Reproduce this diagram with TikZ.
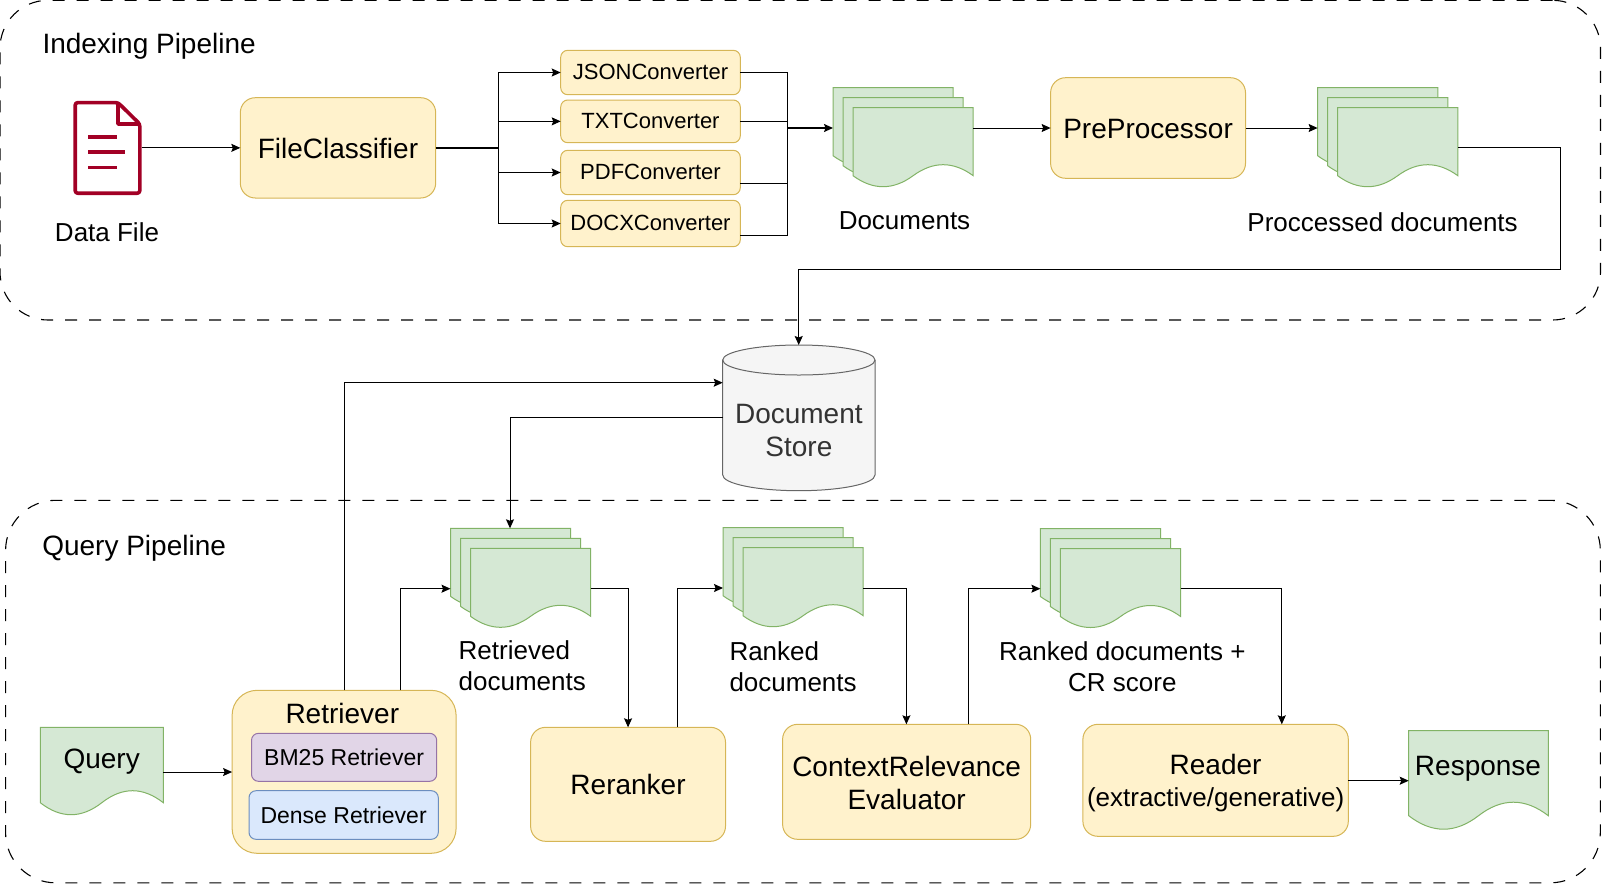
\documentclass[tikz,border=0pt]{standalone}
\usepackage{fontspec}
\setmainfont{Liberation Sans}
\usetikzlibrary{arrows.meta}
\definecolor{ybg}{HTML}{FFF2CC}\definecolor{ybd}{HTML}{D6B656}
\definecolor{gbg}{HTML}{D5E8D4}\definecolor{gbd}{HTML}{82B366}
\definecolor{pbg}{HTML}{E1D5E7}\definecolor{pbd}{HTML}{9673A6}
\definecolor{bbg}{HTML}{DAE8FC}\definecolor{bbd}{HTML}{6C8EBF}
\definecolor{cbg}{HTML}{F5F5F5}\definecolor{cbd}{HTML}{666666}
\definecolor{ired}{HTML}{A20025}
\tikzset{
  fbig/.style={font=\fontsize{28pt}{33.5pt}\selectfont},
  fmid/.style={font=\fontsize{26pt}{30pt}\selectfont},
  fsm/.style={font=\fontsize{22pt}{28pt}\selectfont},
  fsmb/.style={font=\fontsize{23pt}{28pt}\selectfont},
  frame/.style={draw=black,line width=1.1pt,dash pattern=on 12pt off 12pt},
  ybox/.style={draw=ybd,fill=ybg,line width=1pt,rounded corners=15pt},
  smallbox/.style={draw=ybd,fill=ybg,line width=1pt,rounded corners=7pt},
  pbox/.style={draw=pbd,fill=pbg,line width=1pt,rounded corners=7pt},
  bbox/.style={draw=bbd,fill=bbg,line width=1pt,rounded corners=7pt},
  sheet/.style={draw=gbd,fill=gbg,line width=1pt},
  lbl/.style={anchor=base,inner sep=0pt,outer sep=0pt,align=center},
  conn/.style={draw=black,line width=1pt},
  arr/.style={conn,-{Stealth[length=9pt,width=8pt,inset=1.5pt]}},
}
% box: style, name, x1, y1, x2, y2, text
\newcommand{\bx}[7]{%
  \pgfmathsetmacro{\bxw}{#5-#3}\pgfmathsetmacro{\bxh}{#6-#4}%
  \pgfmathsetmacro{\bxx}{(#3+#5)/2}\pgfmathsetmacro{\bxy}{(#4+#6)/2}%
  \node[#1,minimum width=\bxw pt,minimum height=\bxh pt,inner sep=0pt,outer sep=0pt,align=center] (#2) at (\bxx,\bxy) {#7};}
% wavy sheet: x1, y1, x2, yr, amp
\newcommand{\sheetshape}[5]{%
  \pgfmathsetmacro{\sw}{#3-#1}%
  \pgfmathsetmacro{\sa}{#3-\sw/6}\pgfmathsetmacro{\sb}{#3-\sw/3}%
  \pgfmathsetmacro{\sc}{#1+\sw/3}\pgfmathsetmacro{\sd}{#1+\sw/6}%
  \pgfmathsetmacro{\sm}{(#1+#3)/2}%
  \pgfmathsetmacro{\su}{#4-(#5)*4/3}\pgfmathsetmacro{\sl}{#4+(#5)*4/3}%
  \path[sheet] (#1,#2) -- (#3,#2) -- (#3,#4)
    .. controls (\sa,\su) and (\sb,\su) .. (\sm,#4)
    .. controls (\sc,\sl) and (\sd,\sl) .. (#1,#4) -- cycle;}
% stack of three sheets: name, back x, back y
\newcommand{\stack}[3]{%
  \pgfmathsetmacro{\xaa}{#2}\pgfmathsetmacro{\yaa}{#3}%
  \pgfmathsetmacro{\xbb}{#2+10}\pgfmathsetmacro{\ybb}{#3+10}%
  \pgfmathsetmacro{\xcc}{#2+20}\pgfmathsetmacro{\ycc}{#3+20}%
  \pgfmathsetmacro{\xAA}{#2+120.2}\pgfmathsetmacro{\xBB}{#2+130.2}\pgfmathsetmacro{\xCC}{#2+140.2}%
  \pgfmathsetmacro{\rAA}{#3+68}\pgfmathsetmacro{\rBB}{#3+78}\pgfmathsetmacro{\rCC}{#3+88}%
  \sheetshape{\xaa}{\yaa}{\xAA}{\rAA}{11}%
  \sheetshape{\xbb}{\ybb}{\xBB}{\rBB}{11}%
  \sheetshape{\xcc}{\ycc}{\xCC}{\rCC}{11}%
  \pgfmathsetmacro{\yd}{#3+99}%
  \bx{}{#1}{\xaa}{\yaa}{\xCC}{\yd}{}}
\begin{document}
\begin{tikzpicture}[x=1pt,y=-1pt]
\useasboundingbox (0,0) rectangle (1602,884);
% pipeline frames
\bx{frame,rounded corners=48pt}{indexFrame}{0}{0.3}{1600.5}{320}{}
\bx{frame,rounded corners=50pt}{queryFrame}{5.6}{500.3}{1600.3}{882.8}{}
\node[lbl,fbig,anchor=base west] (indexTitle) at (42.5,53) {Indexing Pipeline};
\node[lbl,fbig,anchor=base west] (queryTitle) at (42.3,555.3) {Query Pipeline};
% data file icon
\bx{}{dataFile}{73.3}{100.7}{141.7}{195}{}
\draw[ired,line width=3.6pt,rounded corners=2.5pt,line join=round]
  (75.2,102.6) -- (118,102.6) -- (139.8,124) -- (139.8,193.2) -- (75.2,193.2) -- cycle;
\draw[ired,line width=3.4pt,line join=round] (118,102.6) -- (118,124) -- (139.8,124);
\draw[ired,line width=3.8pt] (88,137) -- (116.5,137) (88,152) -- (125,152) (88,167.5) -- (116.5,167.5);
\node[lbl,fmid] (dataFileLabel) at (107,241) {Data File};
% indexing pipeline boxes
\bx{ybox,fbig,text height=22pt}{fc}{240.3}{97.7}{435.7}{198}{FileClassifier}
\bx{smallbox,fsm,text depth=2pt}{json}{560.7}{50.3}{740.3}{94.7}{JSONConverter}
\bx{smallbox,fsm}{txt}{560.7}{100}{740.3}{142.7}{TXTConverter}
\bx{smallbox,fsm,text depth=2pt}{pdf}{560.7}{150.3}{740.3}{194.7}{PDFConverter}
\bx{smallbox,fsm,text depth=2pt}{docx}{560.7}{200.3}{740.3}{246.7}{DOCXConverter}
\stack{docs}{833}{87.7}
\node[lbl,fmid] (docsLabel) at (904.5,229.3) {Documents};
\bx{ybox,fbig,text height=22pt}{pre}{1050.6}{77.7}{1245.5}{178.3}{PreProcessor}
\stack{procs}{1317.6}{87.7}
\node[lbl,fmid] (procsLabel) at (1382.6,231) {Proccessed documents};
% document store
\path[draw=cbd,fill=cbg,line width=1pt] (722.7,360) -- (722.7,475)
  arc[start angle=180,end angle=360,x radius=76.15,y radius=-15.7] -- (875,360)
  arc[start angle=0,end angle=180,x radius=76.15,y radius=-15] -- cycle;
\draw[cbd,line width=1pt] (722.7,360) arc[start angle=180,end angle=360,x radius=76.15,y radius=-15];
\bx{text=black!80,fbig}{store}{722.7}{370}{875}{490.7}{Document\\Store}
% query pipeline
\sheetshape{40.3}{727.3}{163.3}{802.7}{12}
\bx{}{queryDoc}{40.3}{727.3}{163.3}{815}{}
\node[lbl,fbig] (queryLabel) at (101.7,768.3) {Query};
\bx{ybox,rounded corners=25pt}{retriever}{232.1}{690.3}{456.1}{853.3}{}
\node[lbl,fbig] (retrieverLabel) at (342.3,723.7) {Retriever};
\bx{pbox,fsmb}{bm}{251.5}{733.3}{436.7}{781.3}{BM25 Retriever}
\bx{bbox,fsmb}{dense}{249}{790.7}{438.3}{839.3}{Dense Retriever}
\stack{retrieved}{450.5}{528.3}
\node[lbl,fmid,anchor=base west] (retrievedA) at (458.7,659) {Retrieved};
\node[lbl,fmid,anchor=base west] (retrievedB) at (458.7,690) {documents};
\bx{ybox,fbig}{rerank}{530.6}{727.3}{725.5}{841.3}{Reranker}
\stack{ranked}{723}{527.7}
\node[lbl,fmid,anchor=base west] (rankedA) at (729.5,660) {Ranked};
\node[lbl,fmid,anchor=base west] (rankedB) at (729.5,691) {documents};
\bx{ybox,fbig}{cr}{782.6}{724.3}{1030.7}{839.3}{\rule{0pt}{23pt}ContextRelevance\\Evaluator}
\stack{scored}{1040.4}{528.5}
\node[lbl,fmid] (scoredA) at (1122.3,660) {Ranked documents +};
\node[lbl,fmid] (scoredB) at (1122.3,691) {CR score};
\bx{ybox,font=\fontsize{26pt}{32pt}\selectfont}{reader}{1082.9}{724.3}{1348.3}{836.3}{{\fontsize{28pt}{32pt}\selectfont\rule{0pt}{26.5pt}Reader}\\(extractive/generative)}
\sheetshape{1408.7}{730.7}{1548.3}{815.7}{13.5}
\bx{}{responseDoc}{1408.7}{730.7}{1548.3}{829}{}
\node[lbl,fbig] (responseLabel) at (1478,775) {Response};
% connector ports
\coordinate (trunk) at (498,147.7);
\coordinate (bus) at (787,128);
\coordinate (pdfOut) at (740.3,183.3);
\coordinate (docxOut) at (740.3,235);
\coordinate (procOut) at (1458.3,147.7);
\coordinate (procRight) at (1560.6,269.3);
\coordinate (storeTop) at (798.7,345);
\coordinate (retToStore) at (344,690.3);
\coordinate (storeIn) at (722.7,382.7);
\coordinate (storeOut) at (722.7,417.7);
\coordinate (retrievedTop) at (510,528.3);
\coordinate (retToDocs) at (400,690.3);
\coordinate (retrievedIn) at (450.5,588.7);
\coordinate (retrievedOut) at (590.7,588.7);
\coordinate (rerankOut) at (677,727.3);
\coordinate (rankedIn) at (723,588);
\coordinate (rankedOut) at (863.2,588);
\coordinate (crIn) at (906.4,724.3);
\coordinate (crOut) at (968.3,724.3);
\coordinate (scoredIn) at (1040.4,588.7);
\coordinate (scoredOut) at (1180.6,588.7);
\coordinate (readerIn) at (1281.8,724.3);
\coordinate (queryOut) at (163.3,772);
\coordinate (readerOut) at (1348.3,780.7);
% connectors
\draw[arr] (dataFile.east |- fc.west) -- (fc.west);
\draw[conn,line width=1.6pt] (fc.east |- trunk) -- (trunk);
\draw[arr] (trunk) |- (json.west);
\draw[arr] (trunk) |- (txt.west);
\draw[arr] (trunk) |- (pdf.west);
\draw[arr] (trunk) |- (docx.west);
\draw[conn] (json.east) -| (bus);
\draw[conn] (txt.east) -| (bus);
\draw[conn] (pdfOut) -| (bus);
\draw[conn] (docxOut) -| (bus);
\draw[arr,line width=1.4pt] (bus) -- (docs.west |- bus);
\draw[arr] (docs.east |- bus) -- (pre.west |- bus);
\draw[arr] (pre.east |- bus) -- (procs.west |- bus);
\draw[arr] (procOut) -| (procRight) -| (storeTop);
\draw[arr] (retToStore) |- (storeIn);
\draw[arr] (storeOut) -| (retrievedTop);
\draw[arr] (retToDocs) |- (retrievedIn);
\draw[arr] (retrievedOut) -| (rerank.north);
\draw[arr] (rerankOut) |- (rankedIn);
\draw[arr] (rankedOut) -| (crIn);
\draw[arr] (crOut) |- (scoredIn);
\draw[arr] (scoredOut) -| (readerIn);
\draw[arr] (queryOut) -- (retriever.west |- queryOut);
\draw[arr] (readerOut) -- (responseDoc.west |- readerOut);
\end{tikzpicture}
\end{document}
